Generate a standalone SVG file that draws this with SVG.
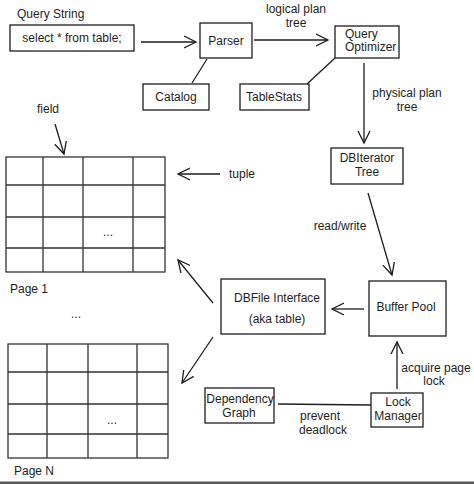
<svg xmlns="http://www.w3.org/2000/svg" width="474" height="484" viewBox="0 0 474 484">
<style>
text{font-family:"Liberation Sans",Arial,sans-serif;font-size:12px;fill:#1e1e1e}
.c{text-anchor:middle}
.box{fill:none;stroke:#1e1e1e;stroke-width:1.3}
.ln{fill:none;stroke:#1e1e1e;stroke-width:1.3}
.ar{fill:none;stroke:#1e1e1e;stroke-width:1.3;marker-end:url(#ah)}
.grid{fill:none;stroke:#333;stroke-width:1.3}
</style>
<defs>
<marker id="ah" markerUnits="userSpaceOnUse" markerWidth="20" markerHeight="20" refX="12" refY="10" orient="auto" viewBox="0 0 20 20">
<path d="M0,4 L12,10 L0,16" fill="none" stroke="#1e1e1e" stroke-width="1.3"/>
</marker>
</defs>
<rect width="474" height="484" fill="#fff"/>

<g id="query-string">
<text x="17" y="18">Query String</text>
<rect class="box" x="10" y="25" width="124" height="26"/>
<text class="c" x="72" y="42">select * from table;</text>
</g>
<g id="parser">
<rect class="box" x="200" y="23" width="52" height="35"/>
<text class="c" x="226" y="45">Parser</text>
</g>
<g id="catalog">
<rect class="box" x="143" y="84" width="66" height="26"/>
<text class="c" x="176" y="101">Catalog</text>
</g>
<g id="query-optimizer">
<rect class="box" x="335" y="26" width="64" height="32"/>
<text x="345" y="38">Query</text>
<text x="345" y="51">Optimizer</text>
</g>
<g id="tablestats">
<rect class="box" x="240" y="84" width="69" height="26"/>
<text class="c" x="274" y="101">TableStats</text>
</g>
<g id="dbiterator">
<rect class="box" x="331" y="148" width="72" height="36"/>
<text class="c" x="367" y="162">DBIterator</text>
<text class="c" x="367" y="176">Tree</text>
</g>
<g id="buffer-pool">
<rect class="box" x="369" y="281" width="77" height="55"/>
<text class="c" x="406" y="311">Buffer Pool</text>
</g>
<g id="dbfile">
<rect class="box" x="221" y="279" width="104" height="55"/>
<text class="c" x="277" y="302">DBFile Interface</text>
<text class="c" x="277" y="323">(aka table)</text>
</g>
<g id="lock-manager">
<rect class="box" x="371" y="393" width="52" height="34"/>
<text class="c" x="398" y="406">Lock</text>
<text class="c" x="398" y="420">Manager</text>
</g>
<g id="dependency-graph">
<rect class="box" x="205" y="388" width="69" height="35"/>
<text class="c" x="240" y="403">Dependency</text>
<text class="c" x="239" y="417">Graph</text>
</g>

<g id="page-1">
<rect class="grid" x="6" y="157" width="159" height="115"/>
<path class="grid" d="M43,157V272M83,157V272M133,157V272M6,185H165M6,217H165M6,248H165"/>
<text class="c" x="108" y="236">...</text>
<text x="10" y="293">Page 1</text>
</g>
<g id="page-n">
<rect class="grid" x="8" y="344" width="160" height="114"/>
<path class="grid" d="M47,344V458M88,344V458M137,344V458M8,372H168M8,404H168M8,434H168"/>
<text class="c" x="112" y="424">...</text>
<text x="14" y="475">Page N</text>
</g>
<text class="c" x="76" y="318">...</text>

<g id="connectors">
<path class="ar" d="M141,42H196"/>
<path class="ln" d="M207,59L192,83"/>
<path class="ar" d="M254,40H328"/>
<path class="ln" d="M335,58L307,84"/>
<path class="ar" d="M364,63V143"/>
<path class="ar" d="M368,193L392,275"/>
<path class="ar" d="M364,309H332"/>
<path class="ar" d="M397,389V342"/>
<path class="ln" d="M278,404L371,405"/>
<path class="ar" d="M213,303L178,260"/>
<path class="ar" d="M213,337L182,383"/>
<path class="ar" d="M220,174H178"/>
<path class="ar" d="M55,124L64,154"/>
<text class="c" x="296" y="13">logical plan</text>
<text class="c" x="296" y="27">tree</text>
<text class="c" x="407" y="97">physical plan</text>
<text class="c" x="407" y="111">tree</text>
<text class="c" x="340" y="230">read/write</text>
<text class="c" x="436" y="372">acquire page</text>
<text class="c" x="434" y="385">lock</text>
<text class="c" x="320" y="420">prevent</text>
<text class="c" x="323" y="434">deadlock</text>
<text class="c" x="48" y="113">field</text>
<text x="229" y="178">tuple</text>
</g>
<rect x="0" y="481.5" width="474" height="2.5" fill="#5a5a5a"/>
</svg>
